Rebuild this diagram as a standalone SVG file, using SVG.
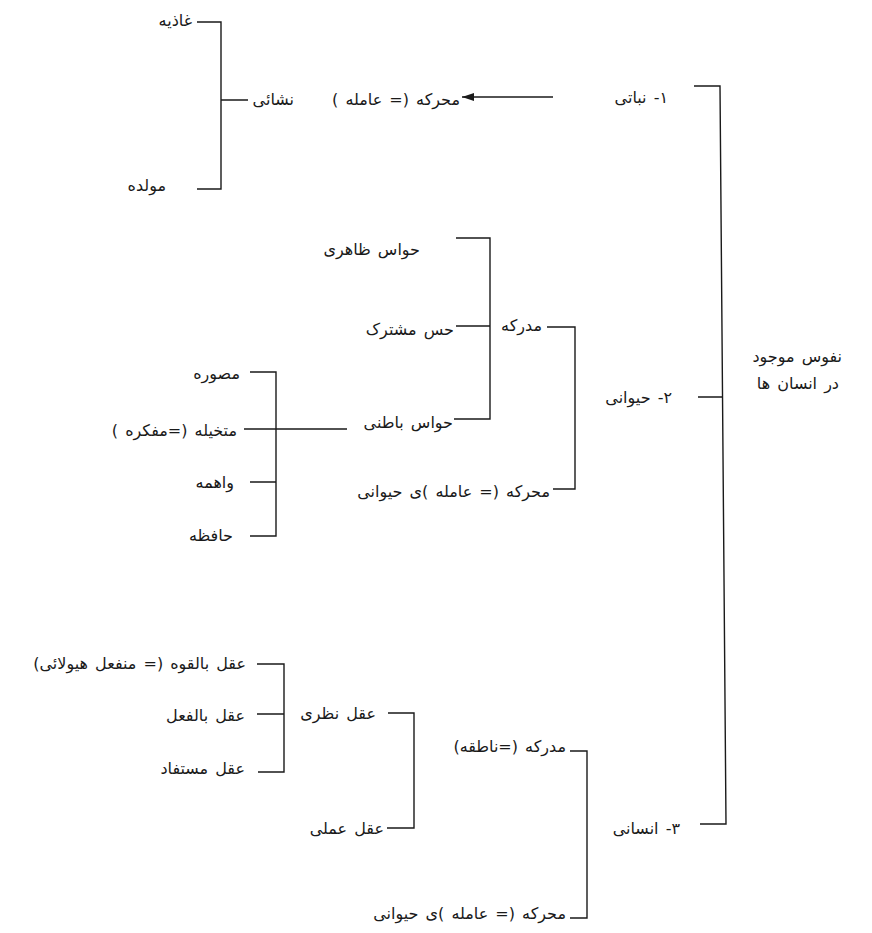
<svg xmlns="http://www.w3.org/2000/svg" width="872" height="933" viewBox="0 0 872 933">
<style>
text{font-family:"DejaVu Sans",sans-serif;font-size:16px;fill:#1a1a1a;direction:rtl;text-anchor:start;dominant-baseline:middle;word-spacing:2px}
.c{fill:none;stroke:#1a1a1a;stroke-width:1.4}
</style>
<defs>
<marker id="ah" viewBox="0 0 12 8" refX="12" refY="4" markerWidth="12" markerHeight="8" orient="auto" markerUnits="userSpaceOnUse">
<path d="M0,0 L12,4 L0,8 Z" fill="#1a1a1a"/>
</marker>
</defs>
<rect width="872" height="933" fill="#fff"/>
<g id="connectors">
<path class="c" d="M694,86 H720 L726,824 H700 M698,397 H723"/>
<path class="c" d="M197,22 H221 V189 H197 M221,100 H248"/>
<path class="c" d="M553,97 H462" marker-end="url(#ah)"/>
<path class="c" d="M456,238 H490 V419 H454 M456,326 H490"/>
<path class="c" d="M547,327 H575 V489 H553"/>
<path class="c" d="M250,372 H276 V536 H250 M244,429 H347 M250,482 H276"/>
<path class="c" d="M257,664 H284 V772 H258 M257,714 H284"/>
<path class="c" d="M388,713 H414 V828 H387"/>
<path class="c" d="M570,751 H587 V918 H570"/>
</g>
<g id="root"><text x="842" y="357">نفوس  موجود</text><text x="839" y="384">در انسان ها</text></g>
<g id="n1"><text x="668" y="98">۱- نباتی</text></g>
<g id="n1-moharrekeh"><text x="460" y="100">محرکه (= عامله )</text></g>
<g id="n1-nashaei"><text x="294" y="100">نشائی</text></g>
<g id="n1-ghazieh"><text x="192" y="21">غاذیه</text></g>
<g id="n1-moledeh"><text x="166" y="186">مولده</text></g>
<g id="n2"><text x="672" y="398">۲- حیوانی</text></g>
<g id="n2-modrekeh"><text x="542" y="326">مدرکه</text></g>
<g id="n2-zaheri"><text x="420" y="250">حواس ظاهری</text></g>
<g id="n2-moshtarak"><text x="454" y="330">حس مشترک</text></g>
<g id="n2-bateni"><text x="453" y="423">حواس باطنی</text></g>
<g id="n2-moharrekeh"><text x="550" y="492">محرکه (= عامله )ی حیوانی</text></g>
<g id="n2-mosavvereh"><text x="240" y="374">مصوره</text></g>
<g id="n2-motakhayyeleh"><text x="237" y="431">متخیله (=مفکره )</text></g>
<g id="n2-vahemeh"><text x="234" y="483">واهمه</text></g>
<g id="n2-hafezeh"><text x="233" y="536">حافظه</text></g>
<g id="n3"><text x="680" y="829">۳- انسانی</text></g>
<g id="n3-modrekeh"><text x="566" y="747">مدرکه (=ناطقه)</text></g>
<g id="n3-nazari"><text x="376" y="714">عقل نظری</text></g>
<g id="n3-amali"><text x="384" y="829">عقل عملی</text></g>
<g id="n3-bilqowweh"><text x="246" y="664">عقل بالقوه (= منفعل هیولائی)</text></g>
<g id="n3-bilfel"><text x="245" y="716">عقل بالفعل</text></g>
<g id="n3-mostafad"><text x="245" y="769">عقل مستفاد</text></g>
<g id="n3-moharrekeh"><text x="566" y="914">محرکه (= عامله )ی حیوانی</text></g>
</svg>
